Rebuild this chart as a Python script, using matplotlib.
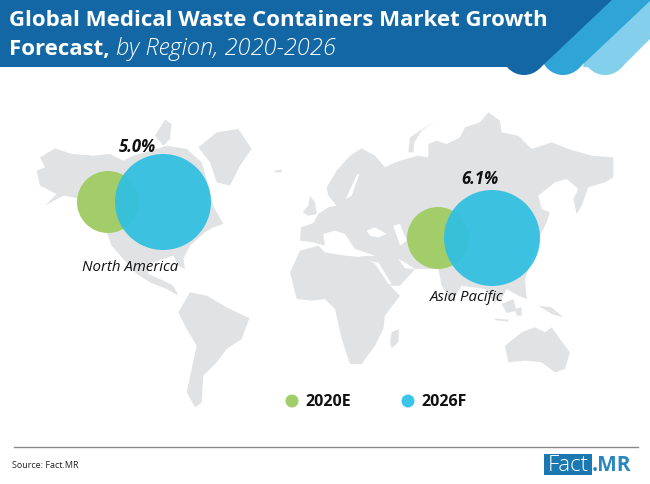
import matplotlib
matplotlib.use("Agg")
import matplotlib.pyplot as plt
from matplotlib.patches import Circle, Polygon, Rectangle

plt.rcParams['font.family'] = ['Open Sans', 'DejaVu Sans']

# --- Data ---
regions = ['North America', 'Asia Pacific']
growth_labels = ['5.0%', '6.1%']
years = ['2020E', '2026F']
centers_2020 = [(108, 203), (438, 239)]
centers_2026 = [(163, 203), (492, 239)]
radius_2020 = [31, 31]
radius_2026 = [48, 48]
growth_pos = [(137, 147), (480, 179)]
region_pos = [(130, 268), (467, 298)]

LAND = '#e1e2e3'
GREEN = '#a3cd68'
BLUE = '#2fbfe0'

left_land = [
    # North America
    [(120,175),(165,148),(215,165),(280,170),(330,165),(370,185),(400,170),(470,150),(500,140),(560,150),
     (605,190),(625,260),(640,320),(670,375),(640,385),(615,400),(570,440),(550,480),(555,510),(535,500),
     (520,470),(490,480),(445,495),(445,525),(490,545),(520,560),(535,590),(500,570),(450,550),(410,525),
     (370,480),(335,440),(320,400),(290,340),(250,300),(190,290),(135,320),(170,285),(120,260),(110,215),(135,205)],
    # arctic islands
    [(465,110),(495,62),(515,75),(510,120),(490,140)],
    # Greenland
    [(595,145),(650,100),(715,90),(755,150),(720,200),(690,260),(650,250),(630,190)],
    # Iceland
    [(820,215),(845,212),(845,220),(825,220)],
    # South America
    [(535,640),(570,580),(620,590),(680,625),(748,658),(725,720),(680,750),(650,790),(610,830),(605,910),
     (585,925),(560,880),(575,810),(590,740),(560,690)],
    # UK
    [(908,340),(925,320),(930,290),(945,310),(950,345),(925,350)],
]
right_land = [
    # Eurasia
    [(-75,425),(-72,385),(-35,372),(-20,345),(10,325),(35,320),(10,290),(5,265),(35,215),(75,170),(110,148),
     (150,170),(180,205),(200,195),(225,185),(280,170),(310,175),(310,135),(335,125),(365,135),(405,115),
     (420,85),(465,70),(490,40),(525,65),(530,100),(580,110),(620,150),(680,130),(730,150),(800,170),
     (865,175),(865,235),(840,250),(790,265),(770,320),(755,345),(745,300),(760,270),(725,240),(690,250),
     (640,290),(650,330),(675,340),(665,370),(640,420),(600,540),(605,600),(580,590),(545,570),(530,600),
     (505,610),(480,570),(410,560),(380,610),(350,560),(340,510),(270,510),(225,560),(195,560),(150,490),
     (100,470),(60,440),(30,420),(0,440),(-35,430)],
    # Africa
    [(-105,520),(-75,455),(-20,440),(0,460),(60,470),(120,475),(150,495),(195,560),(225,590),(180,650),
     (175,690),(150,740),(110,795),(75,795),(50,720),(30,630),(0,600),(-40,605),(-85,600)],
    # Madagascar
    [(200,700),(222,690),(220,730),(200,748),(195,730)],
    # Australia
    [(540,740),(590,700),(630,685),(660,700),(680,685),(705,720),(735,760),(720,810),(690,820),(650,790),
     (600,785),(550,790)],
    # New Guinea, Borneo, Sulawesi, Java, Philippines
    [(640,620),(680,625),(715,655),(680,645)],
    [(530,615),(565,600),(575,635),(545,642)],
    [(570,630),(590,625),(590,650),(575,650)],
    [(505,658),(550,662),(550,668),(515,664)],
    [(590,570),(600,575),(605,600),(592,590)],
    # Novaya Zemlya
    [(250,160),(255,115),(330,65),(290,95),(268,130),(265,160)],
]
# seas cut out of Eurasia
right_seas = [
    [(125,395),(150,385),(185,405),(160,415),(135,410)],
    [(205,380),(225,375),(245,425),(225,440),(215,410)],
    [(-5,405),(30,395),(60,405),(90,450),(150,470),(100,472),(40,455),(0,440)],
    [(150,490),(160,490),(200,555),(190,555)],
    [(220,480),(240,490),(270,510),(240,508)],
    [(62,300),(97,225),(103,225),(80,290)],
]

def crop_pts(pts, x0):
    return [(x0 + x / 3, 100 + y / 3) for x, y in pts]

fig = plt.figure(figsize=(6.5, 4.85), dpi=100)
ax = fig.add_axes([0, 0, 1, 1])
ax.set_xlim(0, 650)
ax.set_ylim(485, 0)
ax.axis('off')

# --- Header ---
ax.add_patch(Polygon([(600,0),(650,0),(650,40),(620.5,69.5),(583,68)], color='#84d0ec', lw=0, zorder=1))
ax.add_patch(Circle((605,54), 22, color='#84d0ec', lw=0, zorder=1))
ax.add_patch(Polygon([(600,0),(650,0),(650,2),(578.5,69.5),(550,60)], color='#2fa4d6', lw=0, zorder=2))
ax.add_patch(Circle((563,54), 22, color='#2fa4d6', lw=0, zorder=2))
ax.add_patch(Polygon([(0,0),(613,0),(539.5,69.5),(524,68),(0,68)], color='#1467a5', lw=0, zorder=3))
ax.add_patch(Circle((524,54), 22, color='#1467a5', lw=0, zorder=3))
ax.text(9, 21, 'Global Medical Waste Containers Market Growth', color='white', fontsize=16,
        fontweight='bold', va='center', zorder=5)
ax.text(9, 49, 'Forecast,', color='white', fontsize=16, fontweight='bold', va='center', zorder=5)
ax.text(116, 49, 'by Region, 2020-2026', color='white', fontsize=17, fontstyle='italic',
        fontweight='light', va='center', zorder=5)

# --- Map ---
for pts in left_land:
    ax.add_patch(Polygon(crop_pts(pts, 0), color=LAND, lw=0, zorder=1))
for pts in right_land:
    ax.add_patch(Polygon(crop_pts(pts, 325), color=LAND, lw=0, zorder=1))
for pts in right_seas:
    ax.add_patch(Polygon(crop_pts(pts, 325), color='white', lw=0, zorder=1.5))

# --- Bubbles ---
for i, region in enumerate(regions):
    ax.add_patch(Circle(centers_2020[i], radius_2020[i], color=GREEN, lw=0, zorder=3))
    ax.add_patch(Circle(centers_2026[i], radius_2026[i], color=BLUE, alpha=0.93, lw=0, zorder=4))
    ax.text(growth_pos[i][0], growth_pos[i][1], growth_labels[i], fontsize=12, fontweight='bold',
            fontstyle='italic', color='#111111', ha='center', va='center', zorder=5)
    ax.text(region_pos[i][0], region_pos[i][1], region, fontsize=10.8, fontstyle='italic',
            color='#111111', ha='center', va='center', zorder=5)

# --- Legend ---
legend_x = [292, 408]
legend_colors = [GREEN, '#3cc5e8']
for x, label, c in zip(legend_x, years, legend_colors):
    ax.add_patch(Circle((x, 402), 6.5, color=c, lw=0, zorder=3))
    ax.text(x + 13, 402, label, fontsize=11.5, fontweight='bold', color='#111111', va='center')

# --- Footer ---
ax.plot([14, 638], [448, 448], color='#8a8a8a', lw=1)
ax.text(12, 465.5, 'Source: Fact.MR', fontsize=6.5, color='#222222', va='center')
ax.add_patch(Rectangle((544, 455), 48, 21, color='#1b78b0', lw=0))
ax.text(568, 465.5, 'Fact', fontsize=16, color='white', ha='center', va='center', fontweight='light')
ax.text(592, 465.5, '.MR', fontsize=15, color='#2a86c0', ha='left', va='center', fontweight='bold')

plt.savefig('out.png', dpi=100)
